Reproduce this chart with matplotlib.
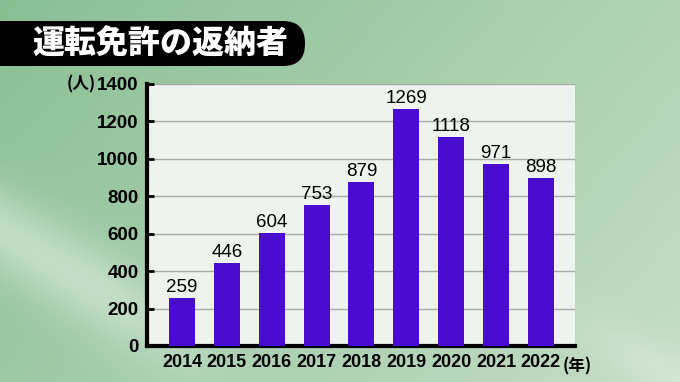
import numpy as np
import matplotlib
matplotlib.use("Agg")
import matplotlib.pyplot as plt
from matplotlib.patches import FancyBboxPatch

plt.rcParams['font.family'] = ['Liberation Sans', 'Noto Sans CJK JP', 'DejaVu Sans']

# data
years = ['2014', '2015', '2016', '2017', '2018', '2019', '2020', '2021', '2022']
counts = [259, 446, 604, 753, 879, 1269, 1118, 971, 898]
yticks = [0, 200, 400, 600, 800, 1000, 1200, 1400]
title = '運転免許の返納者'

W, H = 680, 382
fig = plt.figure(figsize=(W / 100, H / 100), dpi=100)

# background gradient in pixel coords
bg = fig.add_axes([0, 0, 1, 1])
bg.set_xlim(0, W)
bg.set_ylim(H, 0)
bg.axis('off')
yy, xx = np.mgrid[0:H, 0:W]
t = np.clip(0.6 * xx / W + 0.3 * yy / H, 0, 1)
# soft light streaks, faded out smoothly
fade_l = 1 / (1 + np.exp((xx - 180) / 30.0))
fade_r = 1 / (1 + np.exp(-(xx - 600) / 25.0))
streak = np.exp(-((xx * 0.6 - yy + 230) / 45.0) ** 2) * 0.4 * fade_l
streak += np.exp(-((xx * 0.5 - yy + 40) / 30.0) ** 2) * 0.25 * fade_r
c0 = np.array([0.54, 0.75, 0.58])
c1 = np.array([0.80, 0.88, 0.80])
img = c0[None, None, :] * (1 - t[..., None]) + c1[None, None, :] * t[..., None]
img = img + streak[..., None] * (1 - img)
bg.imshow(np.clip(img, 0, 1), extent=(0, W, H, 0), aspect='auto', zorder=0)

# title banner
banner = FancyBboxPatch((-40, 21), 345, 45, boxstyle='round,pad=0,rounding_size=22',
                        facecolor='black', edgecolor='none', zorder=1)
bg.add_patch(banner)
bg.text(32, 44, title, color='white', fontsize=23, fontweight='heavy',
        family=['Noto Sans CJK JP'], va='center', ha='left', zorder=2)

# chart
ax = fig.add_axes([147 / W, 1 - 346 / H, 428 / W, 262 / H])
ax.set_facecolor('#eef3ee')
x = np.arange(len(years))
ax.bar(x, counts, width=0.58, color='#4a0ccf', zorder=3)
for xi, v in zip(x, counts):
    ax.text(xi, v + 10, str(v), ha='center', va='bottom', fontsize=13.5, color='black', zorder=4)

ax.set_xlim(-0.78, 8.76)
ax.set_ylim(0, 1400)
ax.set_yticks(yticks)
ax.set_yticklabels([str(v) for v in yticks], fontsize=13.5, fontweight='bold')
ax.set_xticks(x)
ax.set_xticklabels(years, fontsize=13, fontweight='bold')
ax.yaxis.grid(True, color='#aaaaaa', linewidth=1, zorder=1)
ax.tick_params(axis='y', direction='in', length=5, width=2, pad=6)
ax.tick_params(axis='x', length=0, pad=6)
for s in ['top', 'right']:
    ax.spines[s].set_visible(False)
ax.spines['left'].set_linewidth(3)
ax.spines['bottom'].set_linewidth(3)

ax.text(-0.12, 1.0, '(人)', transform=ax.transAxes, ha='right', va='center',
        fontsize=12, fontweight='bold', family=['Noto Sans CJK JP'])
ax.text(8.48, -0.045 * 1400, '(年)', ha='left', va='top',
        fontsize=12, fontweight='bold', family=['Noto Sans CJK JP'])

fig.savefig('out.png', dpi=100)
